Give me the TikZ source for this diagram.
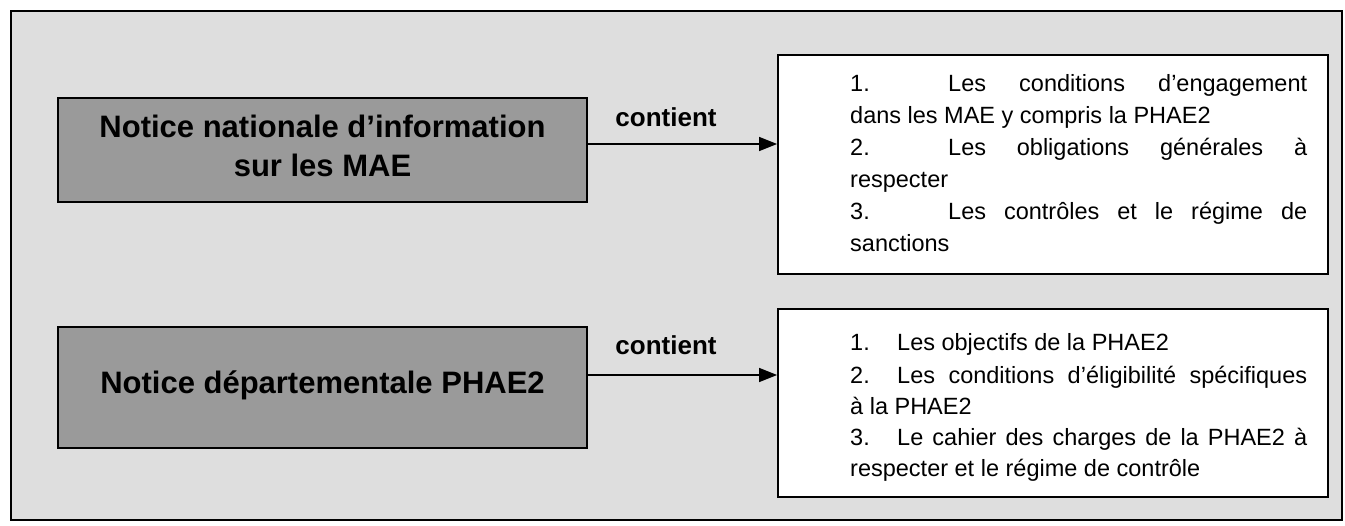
\documentclass[tikz,border=0pt]{standalone}
\usepackage{fontspec}
\setmainfont{Liberation Sans}
\usetikzlibrary{arrows.meta}
\definecolor{bgdot}{HTML}{DEDEDE}
\definecolor{darkbox}{HTML}{9A9A9A}
\begin{document}
\begin{tikzpicture}[x=1pt,y=-1pt,
  dkbox/.style={draw=black, line width=1.3pt, fill=darkbox, rectangle, inner sep=0pt},
  wtbox/.style={draw=black, line width=1.8pt, fill=white, rectangle, inner sep=0pt},
  arr/.style={-{Triangle[length=18pt,width=14pt]}, line width=1.4pt},
  lbl/.style={font=\fontsize{26}{30}\selectfont\bfseries, inner sep=0pt},
  ttl/.style={font=\fontsize{31}{39}\selectfont\bfseries, align=center, inner sep=0pt},
  itm/.style={font=\fontsize{23.5}{30}\selectfont, inner sep=0pt, anchor=base west},
]
\useasboundingbox (0,0) rectangle (1345,526);
\fill[white] (0,0) rectangle (1345,526);
\draw[fill=bgdot, line width=1.4pt] (11,11) rectangle (1342,520);

% dark boxes
\node[dkbox, minimum width=529pt, minimum height=104pt] (d1) at (322.5,150) {};
\node[ttl] (d1t) at (322.5,146) {Notice nationale d’information\\sur les MAE};
\node[dkbox, minimum width=529pt, minimum height=121pt] (d2) at (322.5,387.5) {};
\node[ttl] (d2t) at (322.5,385) {Notice départementale PHAE2};

% white boxes
\node[wtbox, minimum width=550pt, minimum height=219pt] (w1) at (1053,164.5) {};
\node[wtbox, minimum width=550pt, minimum height=188pt] (w2) at (1053,403) {};

% arrows
\coordinate (a1) at ([yshift=6pt]d1.east);
\draw[arr] (a1) -- (a1 -| w1.west);
\coordinate (a2) at ([yshift=12.5pt]d2.east);
\draw[arr] (a2) -- (a2 -| w2.west);
\node[lbl] (l1) at (666,117) {contient};
\node[lbl] (l2) at (666,345) {contient};

% box 1 text
\node[itm] (n1) at (850,92) {1.};
\node[itm] (t1) at (948,92) {\makebox[359pt][s]{Les conditions d’engagement}};
\node[itm] (t1b) at (850,124) {dans les MAE y compris la PHAE2};
\node[itm] (n2) at (850,156) {2.};
\node[itm] (t2) at (948,156) {\makebox[359pt][s]{Les obligations générales à}};
\node[itm] (t2b) at (850,188) {respecter};
\node[itm] (n3) at (850,220) {3.};
\node[itm] (t3) at (948,220) {\makebox[359pt][s]{Les contrôles et le régime de}};
\node[itm] (t3b) at (850,252) {sanctions};

% box 2 text
\node[itm] (m1) at (850,351) {1.};
\node[itm] (u1) at (897,351) {Les objectifs de la PHAE2};
\node[itm] (m2) at (850,384) {2.};
\node[itm] (u2) at (897,384) {\makebox[410pt][s]{Les conditions d’éligibilité spécifiques}};
\node[itm] (u2b) at (850,415) {à la PHAE2};
\node[itm] (m3) at (850,446) {3.};
\node[itm] (u3) at (897,446) {\makebox[410pt][s]{Le cahier des charges de la PHAE2 à}};
\node[itm] (u3b) at (850,477) {respecter et le régime de contrôle};
\end{tikzpicture}
\end{document}
